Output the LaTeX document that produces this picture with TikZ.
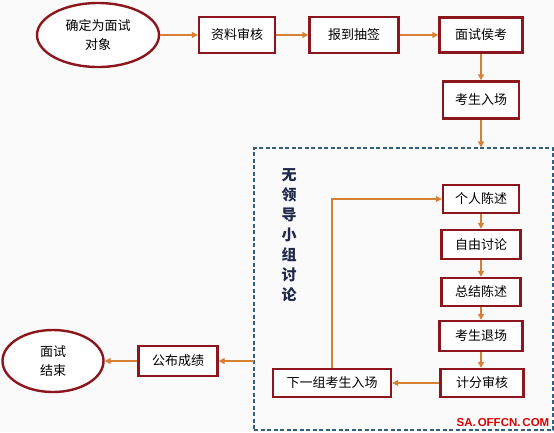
\documentclass[tikz,border=0pt]{standalone}
\usepackage{fontspec}
\newfontfamily\cjk{Noto Sans CJK SC}
\newfontfamily\wm{Liberation Sans}
\usetikzlibrary{shapes.geometric,arrows.meta}
\definecolor{boxred}{RGB}{140,22,30}
\definecolor{arrowc}{RGB}{214,128,52}
\definecolor{dashc}{RGB}{50,95,125}
\definecolor{titlec}{RGB}{30,40,75}
\definecolor{bgc}{RGB}{250,250,250}
\begin{document}
\begin{tikzpicture}[x=1pt,y=-1pt,
  box/.style={draw=boxred,line width=2.4pt,fill=white,inner sep=0pt,font=\cjk\fontsize{13}{15}\selectfont},
  ell/.style={ellipse,draw=boxred,line width=2.4pt,fill=white,inner sep=0pt,align=center,font=\cjk\fontsize{13}{19}\selectfont},
  arr/.style={draw=arrowc,line width=1.4pt,-{Triangle[length=6pt,width=6pt]}},
  dashbox/.style={draw=dashc,line width=1.3pt,dash pattern=on 4pt off 2.5pt,inner sep=0pt}]
\fill[bgc] (0,0) rectangle (554,432);
\useasboundingbox (0,0) rectangle (554,432);
% top row
\node[ell,minimum width=122pt,minimum height=64pt] (start) at (98,35) {确定为面试\\对象};
\node[box,minimum width=76pt,minimum height=36pt] (zl) at (237,35) {资料审核};
\node[box,minimum width=89pt,minimum height=36pt] (bd) at (354,35) {报到抽签};
\node[box,minimum width=83pt,minimum height=35pt] (ms) at (481,35) {面试侯考};
\node[box,minimum width=76pt,minimum height=37pt] (ks) at (481,100) {考生入场};
% group box
\node[dashbox,minimum width=299pt,minimum height=282pt] (grp) at (403.5,289) {};
\node[font=\cjk\bfseries\fontsize{15}{20}\selectfont,text=titlec,align=center,inner sep=0pt] (title) at (289,235) {无\\领\\导\\小\\组\\讨\\论};
\node[box,minimum width=76pt,minimum height=28pt] (p1) at (481,199) {个人陈述};
\node[box,minimum width=79pt,minimum height=29pt] (p2) at (481,244.5) {自由讨论};
\node[box,minimum width=79pt,minimum height=28pt] (p3) at (481,292) {总结陈述};
\node[box,minimum width=83pt,minimum height=30pt] (p4) at (481,336) {考生退场};
\node[box,minimum width=83pt,minimum height=28pt] (p5) at (482,383) {计分审核};
\node[box,minimum width=118pt,minimum height=28pt] (nx) at (332,383) {下一组考生入场};
% bottom left
\node[box,minimum width=79pt,minimum height=30pt] (gb) at (178,361) {公布成绩};
\node[ell,minimum width=101pt,minimum height=62pt] (end) at (53,361) {面试\\结束};
\coordinate (gout) at (254,361);
% connectors
\draw[arr] (start) -- (zl);
\draw[arr] (zl) -- (bd);
\draw[arr] (bd) -- (ms);
\draw[arr] (ms) -- (ks);
\draw[arr] (ks) -- (ks |- grp.north);
\draw[arr] (p1) -- (p2);
\draw[arr] (p2) -- (p3);
\draw[arr] (p3) -- (p4);
\draw[arr] (p4) -- (p4 |- p5.north);
\draw[arr] (p5) -- (nx);
\draw[arr] (nx.north) |- (p1);
\draw[arr] (gout) -- (gb);
\draw[arr] (gb) -- (end);
% watermark
\node[fill=white,text=red!85!black,font=\wm\bfseries\fontsize{11.5}{13}\selectfont,inner xsep=3pt,inner ysep=2pt] (mark) at (503,423) {SA.\,OFFCN.\,COM};
\end{tikzpicture}
\end{document}
